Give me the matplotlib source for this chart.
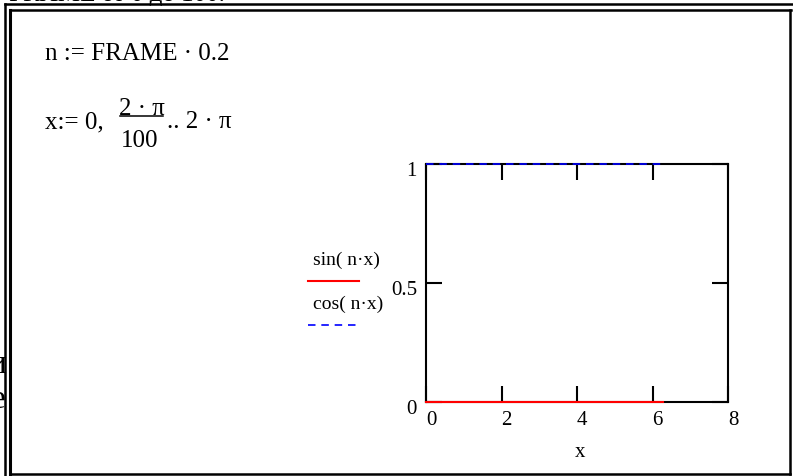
"""Mathcad-style worksheet frame: sin(n*x) / cos(n*x) at FRAME = 0."""

import matplotlib

matplotlib.use("Agg")
import matplotlib.pyplot as plt  # noqa: E402
from matplotlib.lines import Line2D  # noqa: E402
from matplotlib.transforms import ScaledTranslation  # noqa: E402

W, H = 793, 477
DPI = 100

SERIF = ["Liberation Serif", "DejaVu Serif"]
RED = "#ff0000"
BLUE = "#0000ff"
DASH = (0, (4.5, 3.5))

# data (FRAME = 0 -> n = 0)
x_range = [0.0, 6.283]
sin_vals = [0.0, 0.0]
cos_vals = [1.0, 1.0]

x_ticks = [0, 2, 4, 6, 8]
y_ticks = [0, 0.5, 1]
y_tick_labels = ["0", "0.5", "1"]
legend_labels = ["sin( n·x)", "cos( n·x)"]


def fx(x):
    return x / W


def fy(y):
    return 1 - y / H


plt.rcParams["font.family"] = SERIF

fig = plt.figure(figsize=(W / DPI, H / DPI), dpi=DPI)
fig.patch.set_facecolor("white")


def ftext(x, y, s, size, **kw):
    kw.setdefault("va", "baseline")
    kw.setdefault("ha", "left")
    fig.text(fx(x), fy(y), s, fontsize=size, color="black", **kw)


def fline(x0, y0, x1, y1, **kw):
    fig.add_artist(Line2D([fx(x0), fx(x1)], [fy(y0), fy(y1)],
                          transform=fig.transFigure, **kw))


# text of the worksheet that runs past the visible region
ftext(225, 1, "FRAME от 0 до 100.", 18, ha="right")
ftext(6, 373, "и", 24, ha="right")
ftext(6, 408, "е", 24, ha="right")

# worksheet definitions
ftext(45, 60, "n := FRAME · 0.2", 18)
ftext(45, 128, "x:= 0,", 18)
ftext(142, 115, "2 · π", 18, ha="center")
fline(120, 117, 163, 117, color="black", lw=1.1)
ftext(140, 147, "100", 18, ha="center")
ftext(167, 128, ".. 2 · π", 18)

# plot region
ax = fig.add_axes([fx(426), fy(403), (728 - 426) / W, (403 - 165) / H])
ax.plot(x_range, sin_vals, color=RED, lw=1.5, clip_on=False, zorder=5)
ax.plot(x_range, cos_vals, color=BLUE, lw=1.2, linestyle=DASH,
        clip_on=False, zorder=5)
ax.set_xlim(0, 8)
ax.set_ylim(0, 1)
ax.set_xticks(x_ticks)
ax.set_yticks(y_ticks)
ax.set_yticklabels(y_tick_labels)
for s in ax.spines.values():
    s.set_linewidth(1.5)
    s.set_color("black")
ax.tick_params(direction="in", top=True, right=True, length=11.5, width=1.5,
               labelsize=15)
ax.tick_params(axis="x", pad=5.5)
ax.tick_params(axis="y", pad=6.5)
for lbl in ax.get_xticklabels():
    lbl.set_transform(lbl.get_transform()
                      + ScaledTranslation(5 / DPI, 0, fig.dpi_scale_trans))
for lbl in ax.get_yticklabels():
    lbl.set_transform(lbl.get_transform()
                      + ScaledTranslation(0, -4 / DPI, fig.dpi_scale_trans))
ftext(580, 453, "x", 15, ha="center", va="center")

# legend
ftext(313, 265, legend_labels[0], 14)
fline(308, 282, 359, 282, color=RED, lw=1.5)
ftext(313, 309, legend_labels[1], 14)
fline(308, 326, 359, 326, color=BLUE, lw=1.2, linestyle=DASH)

# worksheet borders
fline(5, 5, W, 5, color="black", lw=1.8)
fline(5, 5, 5, H, color="black", lw=1.8)
fline(10, 11, 791, 11, color="black", lw=1.8)
fline(10, 11, 10, 475, color="black", lw=2.2)
fline(790, 11, 790, 475, color="black", lw=1.8)
fline(10, 475, 790, 475, color="black", lw=1.8)

fig.savefig("out.png", dpi=DPI, facecolor="white")
